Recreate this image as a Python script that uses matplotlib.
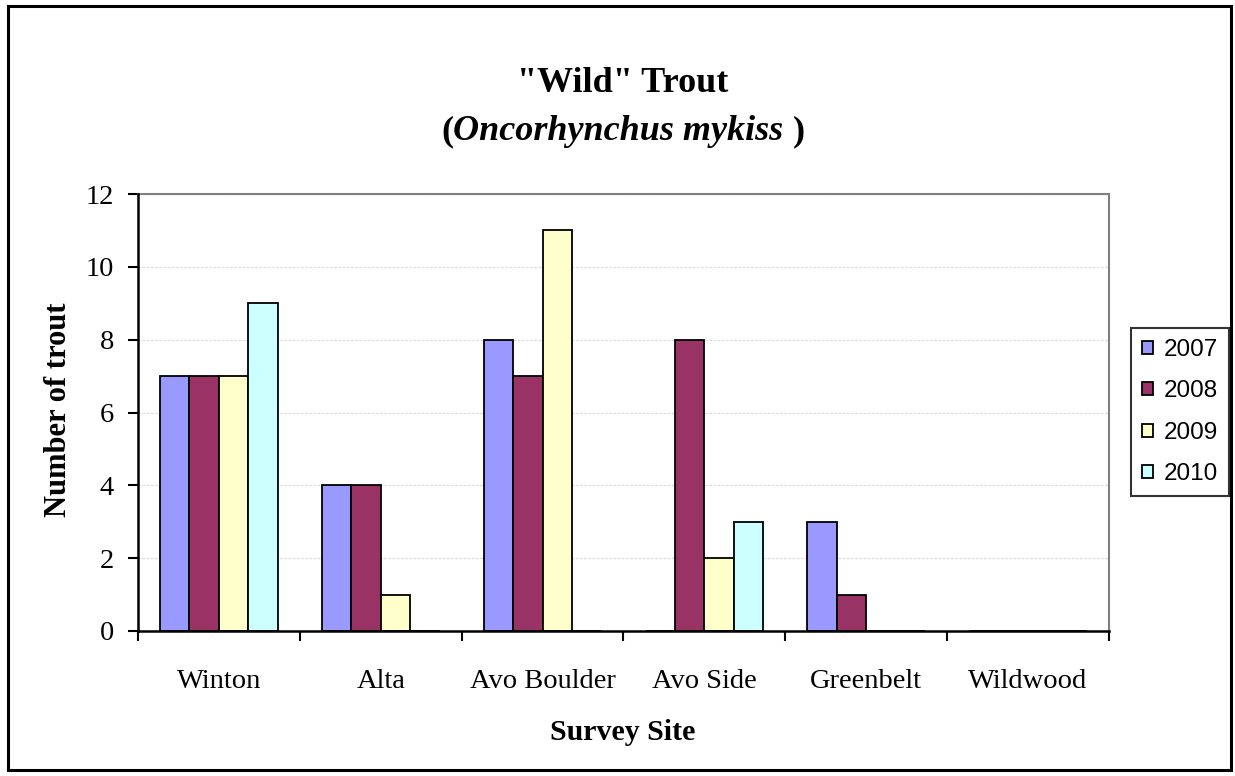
import matplotlib
matplotlib.use("Agg")
import matplotlib.pyplot as plt
import numpy as np
from matplotlib.patches import Rectangle

sites = ["Winton", "Alta", "Avo Boulder", "Avo Side", "Greenbelt", "Wildwood"]
years = ["2007", "2008", "2009", "2010"]
counts_2007 = [7, 4, 8, 0, 3, 0]
counts_2008 = [7, 4, 7, 8, 1, 0]
counts_2009 = [7, 1, 11, 2, 0, 0]
counts_2010 = [9, 0, 0, 3, 0, 0]
series = [counts_2007, counts_2008, counts_2009, counts_2010]
colors = ["#9999FF", "#993366", "#FFFFCC", "#CCFFFF"]
y_ticks = [0, 2, 4, 6, 8, 10, 12]

serif = "Liberation Serif"
sans = "Liberation Sans"

W, H = 1235, 776
fig = plt.figure(figsize=(W / 100, H / 100), dpi=100)
fig.patch.set_facecolor("white")

# outer chart border
fig.patches.append(Rectangle((8 / W, 6 / H), (1231 - 8) / W, (770 - 6) / H,
                             transform=fig.transFigure, fill=False,
                             edgecolor="black", linewidth=2.2, zorder=0))

left, right, top, bottom = 138, 1109, 194, 631
ax = fig.add_axes([left / W, (H - bottom) / H, (right - left) / W, (bottom - top) / H])

n = len(years)
bar_w = 1 / (n + 1.5)
x = np.arange(len(sites))
for i, (vals, c, lab) in enumerate(zip(series, colors, years)):
    offs = (i - (n - 1) / 2) * bar_w
    ax.bar(x + offs, vals, width=bar_w, color=c, edgecolor="black",
           linewidth=1.3, label=lab, zorder=3)

ax.set_xlim(-0.5, len(sites) - 0.5)
ax.set_ylim(0, 12)
ax.set_yticks(y_ticks)
ax.set_yticklabels([str(t) for t in y_ticks], fontfamily=serif, fontsize=20.5)
ax.set_xticks(np.arange(len(sites) + 1) - 0.5, minor=False)
ax.set_xticklabels([])
ax.set_xticks(x, minor=True)
ax.set_xticklabels(sites, minor=True, fontfamily=serif, fontsize=20.5)
ax.tick_params(axis="x", which="minor", length=0, pad=27)
ax.tick_params(axis="x", which="major", length=7.5, width=1.5, direction="out")
ax.tick_params(axis="y", length=7.2, width=1.5, direction="out", pad=10)

ax.grid(axis="y", color="#e0e0e0", linewidth=1.0, linestyle=(0, (2, 1)), zorder=0)
ax.set_axisbelow(True)
for s in ["top", "right"]:
    ax.spines[s].set_color("#808080")
    ax.spines[s].set_linewidth(1.5)
for s in ["left", "bottom"]:
    ax.spines[s].set_color("black")
    ax.spines[s].set_linewidth(1.8)
    ax.spines[s].set_zorder(5)

# axis titles
fig.text(58 / W, 1 - 410 / H, "Number of trout", rotation=90, ha="center", va="center",
         fontfamily=serif, fontweight="bold", fontsize=22)
fig.text(623 / W, 1 - 733 / H, "Survey Site", ha="center", va="center",
         fontfamily=serif, fontweight="bold", fontsize=21.5)

# chart title, second line mixes upright and italic
fig.text(623 / W, 1 - 84 / H, "\"Wild\" Trout", ha="center", va="center",
         fontfamily=serif, fontweight="bold", fontsize=26)
parts = [("(", "normal"), ("Oncorhynchus mykiss", "italic"), (" )", "normal")]
renderer = fig.canvas.get_renderer()
texts = []
for s, st in parts:
    t = fig.text(0, 1 - 132 / H, s, ha="left", va="center", fontfamily=serif,
                 fontweight="bold", fontstyle=st, fontsize=26)
    texts.append(t)
widths = [t.get_window_extent(renderer).width for t in texts]
xpos = 623 - sum(widths) / 2
for t, w in zip(texts, widths):
    t.set_x(xpos / W)
    xpos += w

leg = fig.legend(loc="upper left", bbox_to_anchor=(1131 / W, 1 - 328 / H),
                 prop={"family": sans, "size": 17.5}, frameon=True, fancybox=False,
                 handlelength=0.45, handleheight=0.45, handletextpad=0.45,
                 labelspacing=0.8, borderpad=0.45, borderaxespad=0)
leg.get_frame().set_edgecolor("black")
leg.get_frame().set_linewidth(1.5)

fig.savefig("out.png", dpi=100)
